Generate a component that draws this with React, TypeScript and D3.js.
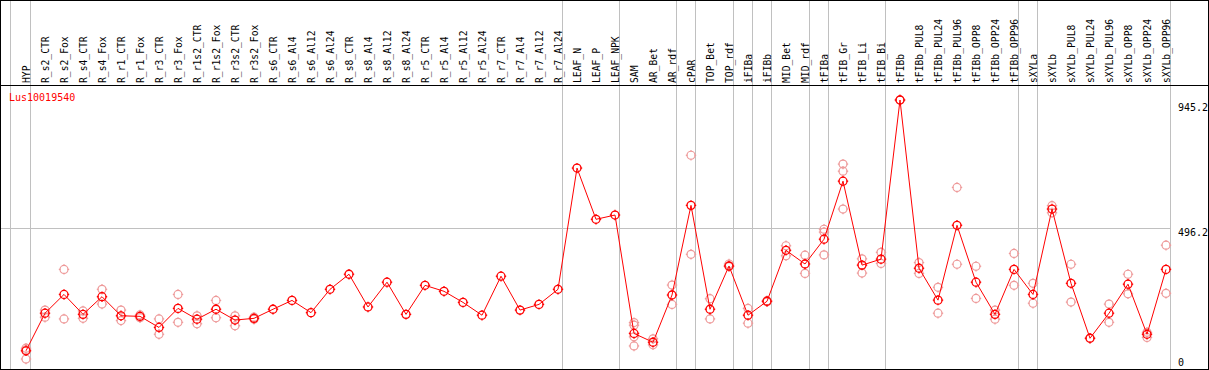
import * as d3 from "d3";

// column (sample) names, left to right
const categories = [
  "HYP", "R_s2_CTR", "R_s2_Fox", "R_s4_CTR", "R_s4_Fox", "R_r1_CTR", "R_r1_Fox",
  "R_r3_CTR", "R_r3_Fox", "R_r1s2_CTR", "R_r1s2_Fox", "R_r3s2_CTR", "R_r3s2_Fox",
  "R_s6_CTR", "R_s6_Al4", "R_s6_Al12", "R_s6_Al24", "R_s8_CTR", "R_s8_Al4",
  "R_s8_Al12", "R_s8_Al24", "R_r5_CTR", "R_r5_Al4", "R_r5_Al12", "R_r5_Al24",
  "R_r7_CTR", "R_r7_Al4", "R_r7_Al12", "R_r7_Al24", "LEAF_N", "LEAF_P", "LEAF_NPK",
  "SAM", "AR_Bet", "AR_rdf", "cPAR", "TOP_Bet", "TOP_rdf", "iFIBa", "iFIBb",
  "MID_Bet", "MID_rdf", "tFIBa", "tFIB_Gr", "tFIB_Li", "tFIB_Bi", "tFIBb",
  "tFIBb_PUL8", "tFIBb_PUL24", "tFIBb_PUL96", "tFIBb_OPP8", "tFIBb_OPP24", "tFIBb_OPP96",
  "sXYLa", "sXYLb", "sXYLb_PUL8", "sXYLb_PUL24", "sXYLb_PUL96", "sXYLb_OPP8",
  "sXYLb_OPP24", "sXYLb_OPP96",
];

// mean expression per column
const means = [
  64, 196, 262, 192, 254, 187, 185, 146, 213, 175, 210, 172, 178,
  210, 241, 198, 280, 333, 218, 305, 192, 294, 273, 234, 189,
  326, 207, 227, 280, 706, 526, 541,
  125, 94, 260, 575, 210, 362, 189, 238, 417, 369, 456, 660, 365, 386, 945.2,
  354, 242, 505, 305, 192, 350,
  262, 562, 301, 108, 196, 298, 122, 350,
];

// replicate values per column (light circles)
const replicates = [
  [73, 67, 35], [207, 182], [350, 176], [204, 178], [280, 228], [207, 170], [190, 180],
  [176, 122], [262, 164], [187, 159], [241, 180], [187, 152], [182, 175],
  [], [], [], [], [], [], [], [], [], [], [], [], [], [], [], [], [], [], [],
  [163, 154, 113, 81], [106, 85], [295, 227], [751, 403], [247, 176], [369, 360],
  [213, 161], [240, 236], [433, 398], [400, 336], [491, 481, 401], [720, 695, 562],
  [387, 337], [410, 371], [945.2, 945.2],
  [374, 336], [287, 196], [638, 368], [361, 248], [207, 175], [406, 294],
  [301, 231], [574, 549], [368, 235], [108], [228, 164], [333, 264], [129, 111], [435, 266],
];

// columns followed by a grey separator
const groupEnds = [
  "HYP", "R_r7_Al24", "LEAF_NPK", "AR_rdf", "cPAR", "TOP_rdf", "iFIBa", "iFIBb",
  "MID_rdf", "tFIBa", "tFIB_Bi", "tFIBb_OPP96", "sXYLa", "sXYLb_OPP96",
];

const axisLabels = [945.2, 496.2, 0];
const refLine = 496.2;
const geneId = "Lus10019540";

const W = 1209;
const H = 370;
const HEADER = 85;
const BOTTOM = 369;
const RIGHT = 1208;
const AXIS_X = 1170;
const FONT = "DejaVu Sans Mono, monospace";

function Marker({ x, y, color, sw }: { x: number; y: number; color: string; sw: number }) {
  const r = 4;
  return (
    <g stroke={color} strokeWidth={sw} fill="none">
      <circle cx={x} cy={y} r={r} />
      <line x1={x} x2={x} y1={y - r - 1.2} y2={y - r + 0.5} />
      <line x1={x} x2={x} y1={y + r - 0.5} y2={y + r + 1.2} />
      <line x1={x - r - 1.2} x2={x - r + 0.5} y1={y} y2={y} />
      <line x1={x + r - 0.5} x2={x + r + 1.2} y1={y} y2={y} />
    </g>
  );
}

export default function App() {
  const x = d3.scalePoint<string>().domain(categories).range([26, 1166]);
  const y = d3.scaleLinear().domain([0, 945.2]).range([BOTTOM, 100]);

  const line = d3
    .line<number>()
    .x((_d, i) => x(categories[i]) as number)
    .y((d) => y(d));

  const seps = [
    (x(categories[0]) as number) - 16,
    ...groupEnds.map((c) => (x(c) as number) + 4),
  ];

  return (
    <svg
      width={W}
      height={H}
      style={{ position: "fixed", left: 0, top: 0, background: "#fff" }}
    >
      {/* grey separators */}
      {seps.map((sx, i) => (
        <line
          key={"s" + i}
          x1={Math.round(sx) + 0.5}
          x2={Math.round(sx) + 0.5}
          y1={0}
          y2={BOTTOM}
          stroke="#c0c0c0"
          strokeWidth={1}
          shapeRendering="crispEdges"
        />
      ))}

      {/* reference line */}
      <line
        x1={1}
        x2={AXIS_X}
        y1={Math.round(y(refLine)) + 0.5}
        y2={Math.round(y(refLine)) + 0.5}
        stroke="#c0c0c0"
        shapeRendering="crispEdges"
      />

      {/* header divider + frame */}
      <line x1={0} x2={RIGHT} y1={HEADER + 0.5} y2={HEADER + 0.5} stroke="#000" shapeRendering="crispEdges" />
      <rect
        x={0.5}
        y={0.5}
        width={RIGHT}
        height={BOTTOM - 0.5}
        fill="none"
        stroke="#000"
        shapeRendering="crispEdges"
      />

      {/* column labels */}
      {categories.map((c) => {
        const cx = (x(c) as number) + 4;
        return (
          <text
            key={c}
            transform={`translate(${cx},83) rotate(-90)`}
            fontFamily={FONT}
            fontSize={9.7}
            fill="#000"
          >
            {c}
          </text>
        );
      })}

      <text x={9} y={100.5} fontFamily={FONT} fontSize={10} fill="#ff0000">
        {geneId}
      </text>

      {/* right axis labels */}
      {axisLabels.map((v) => (
        <text
          key={v}
          x={1178}
          y={Math.max(111, Math.min(366, y(v) + 8))}
          fontFamily={FONT}
          fontSize={10}
          fill="#000"
        >
          {v}
        </text>
      ))}

      {/* replicates */}
      {replicates.map((reps, i) =>
        reps.map((v, j) => (
          <Marker
            key={`r${i}-${j}`}
            x={x(categories[i]) as number}
            y={y(v)}
            color="#ee9a9a"
            sw={1.2}
          />
        ))
      )}

      {/* mean line */}
      <path d={line(means) || ""} fill="none" stroke="#ff0000" strokeWidth={1} />
      {means.map((v, i) => (
        <Marker key={"m" + i} x={x(categories[i]) as number} y={y(v)} color="#ff0000" sw={1.3} />
      ))}
    </svg>
  );
}
